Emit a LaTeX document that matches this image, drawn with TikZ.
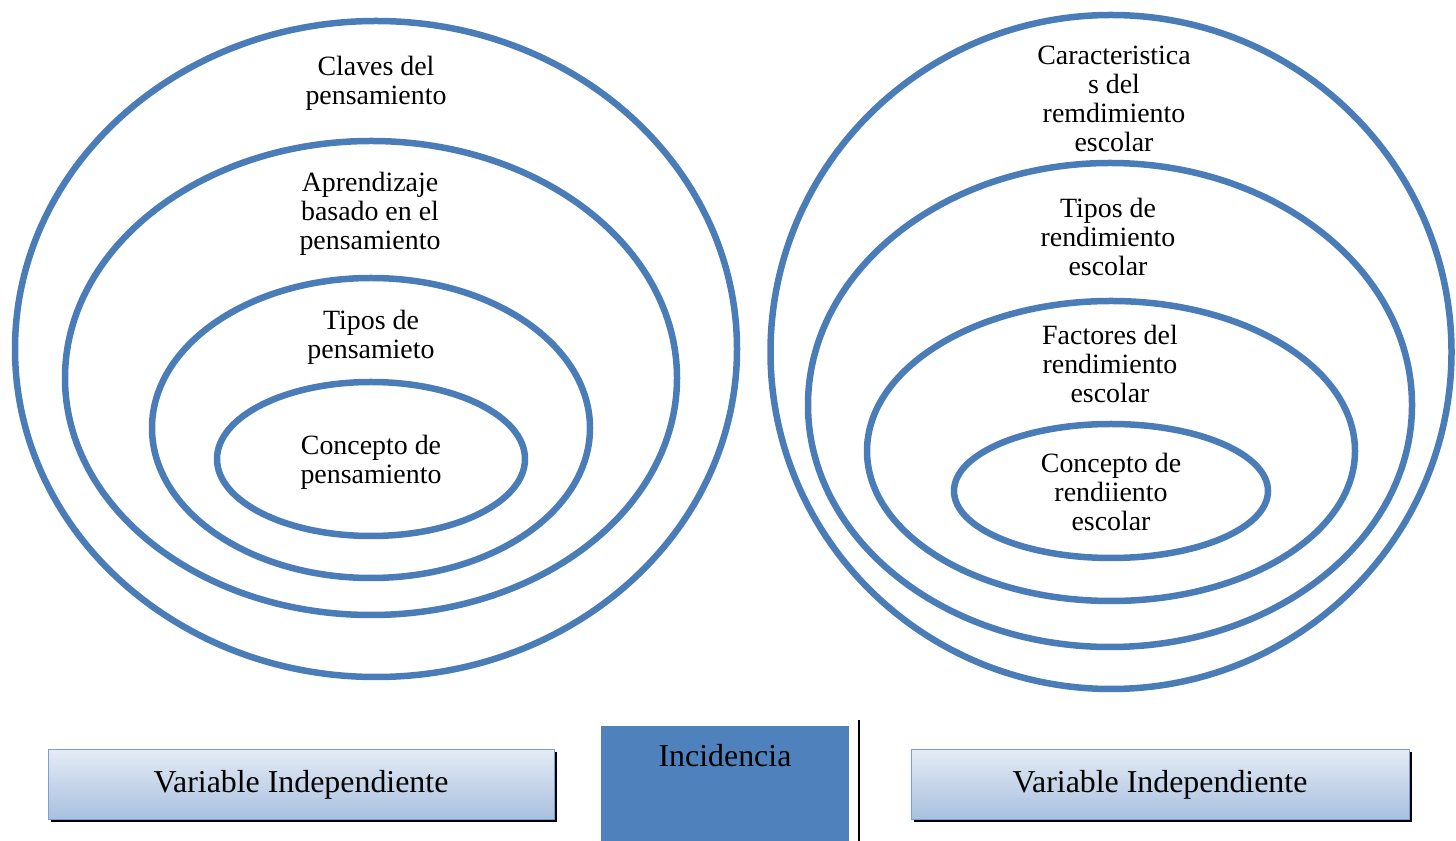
\documentclass[tikz,border=0pt]{standalone}
\usepackage{fontspec}
\setmainfont{Liberation Serif}
\usetikzlibrary{shapes.geometric, shadows}
\definecolor{ringblue}{RGB}{74,124,184}
\definecolor{incblue}{RGB}{79,129,189}
\definecolor{boxtop}{RGB}{228,235,245}
\definecolor{boxbot}{RGB}{168,191,222}
\definecolor{boxline}{RGB}{120,160,215}
\tikzset{
  ring/.style={ellipse,draw=ringblue,line width=6.5bp,inner sep=0pt},
  ringtext/.style={align=center,font=\fontsize{28}{29}\selectfont},
  varbox/.style={rectangle,draw=boxline,line width=1bp,top color=boxtop,bottom color=boxbot,
    minimum height=70bp,font=\fontsize{32}{36}\selectfont,
    drop shadow={shadow xshift=2.5bp,shadow yshift=-2.5bp,fill=black,opacity=1}},
  incbox/.style={rectangle,fill=incblue,inner sep=0pt,minimum width=248bp,minimum height=116bp},
}
\begin{document}
\begin{tikzpicture}[line join=bevel]
\useasboundingbox (0bp,0bp) rectangle (1456bp,841bp);
%% left side
\node (ring_l1) at (376bp,492bp) [ring,minimum width=722bp,minimum height=656bp] {};
  \node (ring_l2) at (371bp,463bp) [ring,minimum width=612bp,minimum height=474bp] {};
  \node (ring_l3) at (371bp,413bp) [ring,minimum width=438bp,minimum height=300bp] {};
  \node (ring_l4) at (371bp,382bp) [ring,minimum width=308bp,minimum height=154bp] {};
  \node (text_l1) at (376bp,758bp) [ringtext] {Claves del\\pensamiento};
  \node (text_l2) at (370bp,627bp) [ringtext] {Aprendizaje\\basado en el\\pensamiento};
  \node (text_l3) at (371bp,504bp) [ringtext] {Tipos de\\pensamieto};
  \node (text_l4) at (371bp,379bp) [ringtext] {Concepto de\\pensamiento};
%% right side
\node (ring_r1) at (1111bp,489bp) [ring,minimum width=681bp,minimum height=674bp] {};
  \node (ring_r2) at (1110bp,436bp) [ring,minimum width=604bp,minimum height=484bp] {};
  \node (ring_r3) at (1111bp,390bp) [ring,minimum width=488bp,minimum height=300bp] {};
  \node (ring_r4) at (1111bp,350bp) [ring,minimum width=314bp,minimum height=134bp] {};
  \node (text_r1) at (1114bp,742bp) [ringtext] {Caracteristica\\s del\\remdimiento\\escolar};
  \node (text_r2) at (1108bp,604bp) [ringtext] {Tipos de\\rendimiento\\escolar};
  \node (text_r3) at (1110bp,477bp) [ringtext] {Factores del\\rendimiento\\escolar};
  \node (text_r4) at (1111bp,349bp) [ringtext] {Concepto de\\rendiiento\\escolar};
%% bottom row
\node (var_l) at (301bp,56bp) [varbox,minimum width=506bp] {Variable Independiente};
  \node (incid) at (725bp,57bp) [incbox] {};
  \node (incid_text) at (725bp,85bp) [font=\fontsize{32}{36}\selectfont] {Incidencia};
  \node (var_r) at (1160bp,56bp) [varbox,minimum width=498bp] {Variable Independiente};
  \coordinate (sep_top) at (859bp,121bp);
  \coordinate (sep_bot) at (859bp,0bp);
  \draw [black,line width=2bp] (sep_top) -- (sep_bot);
%
\end{tikzpicture}
\end{document}
